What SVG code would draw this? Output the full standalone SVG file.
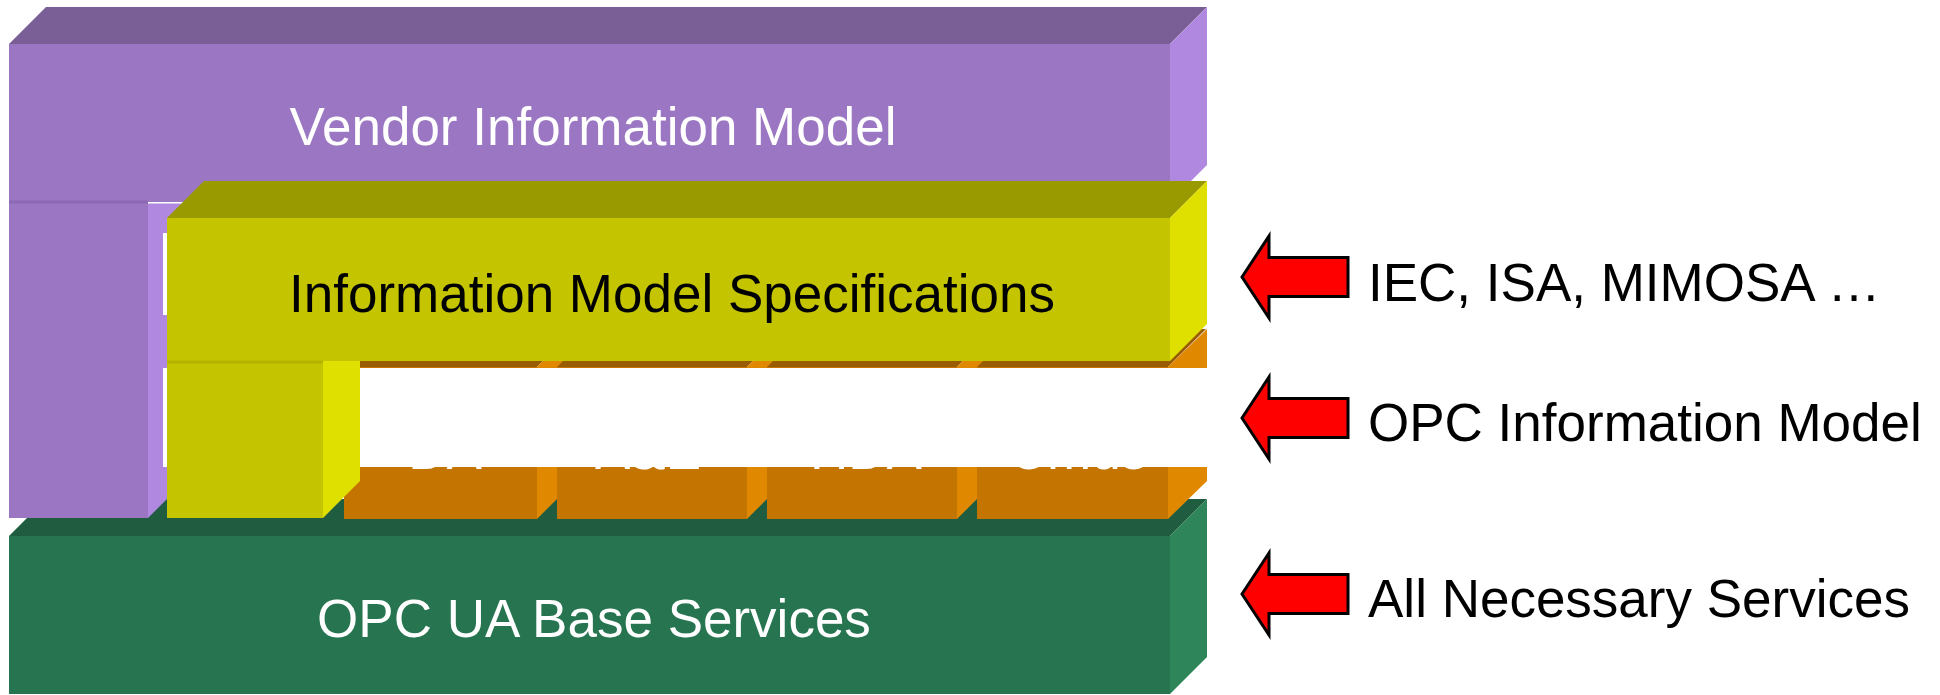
<svg xmlns="http://www.w3.org/2000/svg" width="1940" height="695" viewBox="0 0 1940 695">
<style>
text{font-family:"Liberation Sans",Arial,sans-serif;font-size:53px}
.w{fill:#ffffff}
.k{fill:#000000}
.c{text-anchor:middle}
.pF{fill:#9b77c3}.pT{fill:#7a5f97}.pS{fill:#b088e0}
.yF{fill:#c4c400}.yT{fill:#999900}.yS{fill:#e0e000}
.oF{fill:#c47400}.oT{fill:#995c00}.oS{fill:#e08800}
.gF{fill:#277550}.gT{fill:#1f5c40}.gS{fill:#2e855a}
.arrow{fill:#ff0000;stroke:#000000;stroke-width:3;stroke-linejoin:miter}
</style>
<rect width="1940" height="695" fill="#ffffff"/>

<g id="base-services">
<polygon class="gT" points="9,536 46,499 1207,499 1170,536"/>
<rect class="gF" x="9" y="536" width="1161" height="158"/>
<polygon class="gS" points="1170,536 1207,499 1207,657 1170,694"/>
<text class="w c" x="594" y="637">OPC UA Base Services</text>
</g>

<g id="opc-information-model">
<g id="seg-da">
<polygon class="oT" points="344,367 382,329 575,329 537,367"/>
<rect class="oF" x="344" y="367" width="193" height="152"/>
<polygon class="oS" points="537,367 575,329 575,481 537,519"/>
<text class="w c" x="445" y="469">DA</text>
</g>
<g id="seg-ae">
<polygon class="oT" points="557,367 595,329 785,329 747,367"/>
<rect class="oF" x="557" y="367" width="190" height="152"/>
<polygon class="oS" points="747,367 785,329 785,481 747,519"/>
<text class="w c" x="648" y="469">A&amp;E</text>
</g>
<g id="seg-hda">
<polygon class="oT" points="767,367 805,329 995,329 957,367"/>
<rect class="oF" x="767" y="367" width="190" height="152"/>
<polygon class="oS" points="957,367 995,329 995,481 957,519"/>
<text class="w c" x="866" y="469">HDA</text>
</g>
<g id="seg-cmds">
<polygon class="oT" points="977,367 1015,329 1206,329 1168,367"/>
<rect class="oF" x="977" y="367" width="191" height="152"/>
<polygon class="oS" points="1168,367 1207,329 1207,481 1168,519"/>
<text class="w c" x="1078" y="469">Cmds</text>
</g>
</g>

<g id="vendor-information-model">
<polygon class="pT" points="9,44 46,7 1207,7 1170,44"/>
<rect class="pF" x="9" y="44" width="1161" height="158"/>
<polygon class="pS" points="1170,44 1207,7 1207,165 1170,202"/>
<rect class="pF" x="9" y="202" width="139" height="316"/>
<line x1="9" y1="202" x2="148" y2="202" stroke="#8c69b4" stroke-width="3"/>
<polygon class="pS" points="148,203.5 185,203.5 185,481 148,518"/>
<text class="w c" x="593" y="145">Vendor Information Model</text>
</g>

<g id="masks">
<rect x="163" y="233" width="1007" height="82" fill="#ffffff"/>
<rect x="163" y="368" width="1052" height="99" fill="#ffffff"/>
</g>

<g id="information-model-specifications">
<polygon class="yT" points="167,218 204,181 1207,181 1170,218"/>
<rect class="yF" x="167" y="218" width="1003" height="143"/>
<polygon class="yS" points="1170,218 1207,181 1207,324 1170,361"/>
<rect class="yF" x="167" y="361" width="156" height="157"/>
<line x1="167" y1="362" x2="323" y2="362" stroke="#b4b400" stroke-width="3"/>
<polygon class="yS" points="323,361 360,361 360,481 323,518"/>
<text class="k c" x="672" y="312">Information Model Specifications</text>
</g>

<g id="connectors">
<polygon class="arrow" points="1242,277 1269,236 1269,257.5 1348,257.5 1348,296.5 1269,296.5 1269,318"/>
<polygon class="arrow" points="1242,418 1269,377 1269,398.5 1348,398.5 1348,437.5 1269,437.5 1269,459"/>
<polygon class="arrow" points="1242,594 1269,553 1269,574.5 1348,574.5 1348,613.5 1269,613.5 1269,635"/>
</g>

<g id="side-labels">
<text class="k" x="1368" y="301">IEC, ISA, MIMOSA …</text>
<text class="k" x="1368" y="441">OPC Information Model</text>
<text class="k" x="1368" y="617">All Necessary Services</text>
</g>
</svg>
